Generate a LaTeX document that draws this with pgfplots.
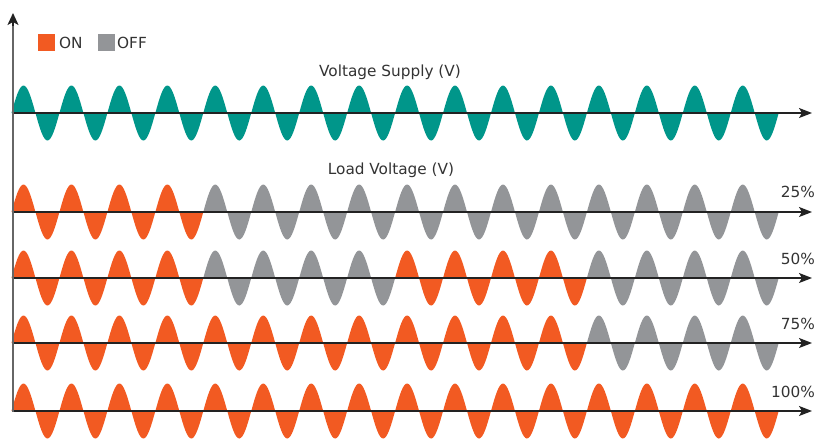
\documentclass[border=0pt]{standalone}
\usepackage{pgfplots}
\pgfplotsset{compat=1.18}
\usepackage{pgfplotstable}
\usepackage{fontspec}
\setmainfont{DejaVu Sans}
\usetikzlibrary{arrows.meta}
\definecolor{supplyc}{HTML}{00968A}
\definecolor{onc}{HTML}{F25A22}
\definecolor{offc}{HTML}{939598}
\definecolor{txtc}{HTML}{333333}
\definecolor{axc}{HTML}{222222}
\definecolor{yaxc}{HTML}{666666}

% one cycle of the wave (index, normalised value)
\pgfplotstableread{
i s
0 0
1 0.1951
2 0.3827
3 0.5556
4 0.7071
5 0.8315
6 0.9239
7 0.9808
8 1
9 0.9808
10 0.9239
11 0.8315
12 0.7071
13 0.5556
14 0.3827
15 0.1951
16 0
17 -0.1951
18 -0.3827
19 -0.5556
20 -0.7071
21 -0.8315
22 -0.9239
23 -0.9808
24 -1
25 -0.9808
26 -0.9239
27 -0.8315
28 -0.7071
29 -0.5556
30 -0.3827
31 -0.1951
32 0
}\cyc

\newcommand{\wave}[3]{%
  \addplot[fill=#3, draw=none] table[x expr={11.5+47.95*(#1+\thisrow{i}/32)}, y expr={#2-27.5*\thisrow{s}}] {\cyc} -- cycle;
}

\begin{document}
\begin{tikzpicture}
\begin{axis}[scale only axis, width=817pt, height=440pt,
  xmin=0, xmax=817, ymin=0, ymax=440, y dir=reverse,
  hide axis, clip=false]
\path (axis cs:0,0) rectangle (axis cs:817,440);
% supply
\pgfplotsinvokeforeach{0,...,15}{\wave{#1}{113}{supplyc}}
% 25%
\pgfplotsinvokeforeach{0,...,3}{\wave{#1}{212}{onc}}
\pgfplotsinvokeforeach{4,...,15}{\wave{#1}{212}{offc}}
% 50%
\pgfplotsinvokeforeach{0,...,3}{\wave{#1}{278}{onc}}
\pgfplotsinvokeforeach{4,...,7}{\wave{#1}{278}{offc}}
\pgfplotsinvokeforeach{8,...,11}{\wave{#1}{278}{onc}}
\pgfplotsinvokeforeach{12,...,15}{\wave{#1}{278}{offc}}
% 75%
\pgfplotsinvokeforeach{0,...,11}{\wave{#1}{343}{onc}}
\pgfplotsinvokeforeach{12,...,15}{\wave{#1}{343}{offc}}
% 100%
\pgfplotsinvokeforeach{0,...,15}{\wave{#1}{411}{onc}}

% axes
\pgfplotsinvokeforeach{113,212,278,343,411}{
  \draw[axc, line width=1.4pt, -{Stealth[length=13pt,width=10pt,inset=3pt]}] (axis cs:13,#1) -- (axis cs:812,#1);
}
\draw[yaxc, line width=2pt] (axis cs:13,411.7) -- (axis cs:13,24);
\draw[axc, line width=1.5pt, -{Stealth[length=12pt,width=11pt,inset=3pt]}] (axis cs:13,26) -- (axis cs:13,13);

% texts
\begin{scope}[every node/.style={text=txtc, font=\fontsize{15.3}{18}\selectfont, inner sep=0pt}]
\node[anchor=base] at (axis cs:390,76) {Voltage Supply (V)};
\node[anchor=base] at (axis cs:391,174) {Load Voltage (V)};
\node[anchor=base east] at (axis cs:815,197) {25\%};
\node[anchor=base east] at (axis cs:815,264) {50\%};
\node[anchor=base east] at (axis cs:815,329) {75\%};
\node[anchor=base east] at (axis cs:815,397) {100\%};
\fill[onc] (axis cs:38,34) rectangle (axis cs:55,51);
\node[anchor=base west] at (axis cs:59,48) {ON};
\fill[offc] (axis cs:98,34) rectangle (axis cs:115,51);
\node[anchor=base west] at (axis cs:117,48) {OFF};
\end{scope}
\end{axis}
\end{tikzpicture}
\end{document}
